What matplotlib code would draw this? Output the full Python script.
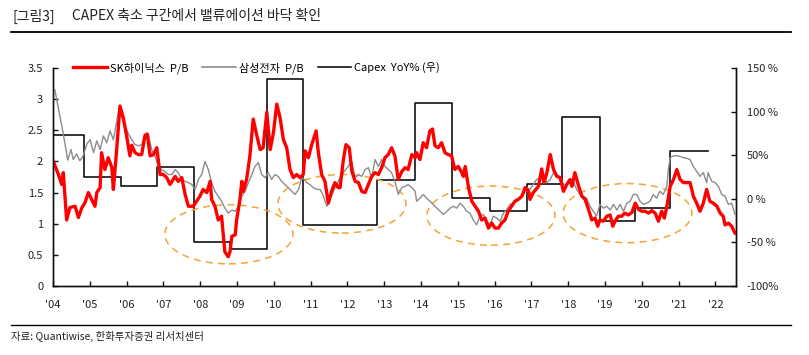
import matplotlib
matplotlib.use("Agg")
import matplotlib.pyplot as plt
from matplotlib.patches import Ellipse
from matplotlib.lines import Line2D

plt.rcParams['font.family'] = ['Noto Sans CJK KR', 'DejaVu Sans']

# SK hynix P/B
sk_year = [2004.01, 2004.14, 2004.24, 2004.28, 2004.37, 2004.46, 2004.60, 2004.69, 2004.78, 2004.87,
           2004.96, 2005.05, 2005.14, 2005.19, 2005.28, 2005.32, 2005.41, 2005.50, 2005.60, 2005.64,
           2005.73, 2005.82, 2005.91, 2006.00, 2006.09, 2006.14, 2006.23, 2006.32, 2006.41, 2006.50,
           2006.56, 2006.64, 2006.73, 2006.82, 2006.91, 2007.00, 2007.09, 2007.18, 2007.32, 2007.40,
           2007.50, 2007.59, 2007.68, 2007.81, 2007.90, 2007.99, 2008.08, 2008.18, 2008.27, 2008.31,
           2008.40, 2008.49, 2008.58, 2008.67, 2008.76, 2008.81, 2008.86, 2008.95, 2008.99, 2009.08,
           2009.13, 2009.17, 2009.26, 2009.35, 2009.44, 2009.54, 2009.63, 2009.71, 2009.81, 2009.90,
           2009.99, 2010.08, 2010.17, 2010.26, 2010.35, 2010.44, 2010.53, 2010.62, 2010.71, 2010.80,
           2010.85, 2010.94, 2011.03, 2011.15, 2011.21, 2011.30, 2011.39, 2011.48, 2011.57, 2011.66,
           2011.75, 2011.80, 2011.89, 2011.96, 2012.05, 2012.12, 2012.21, 2012.30, 2012.39, 2012.48,
           2012.57, 2012.66, 2012.75, 2012.84, 2012.93, 2013.02, 2013.11, 2013.20, 2013.29, 2013.38,
           2013.48, 2013.57, 2013.65, 2013.75, 2013.84, 2013.88, 2013.97, 2014.06, 2014.15, 2014.24,
           2014.31, 2014.38, 2014.47, 2014.56, 2014.65, 2014.74, 2014.83, 2014.92, 2015.01, 2015.11,
           2015.15, 2015.20, 2015.29, 2015.38, 2015.47, 2015.56, 2015.65, 2015.74, 2015.83, 2015.92,
           2016.01, 2016.10, 2016.19, 2016.28, 2016.37, 2016.46, 2016.55, 2016.64, 2016.74, 2016.83,
           2016.92, 2016.96, 2017.05, 2017.19, 2017.28, 2017.34, 2017.42, 2017.51, 2017.60, 2017.69,
           2017.78, 2017.87, 2017.96, 2018.05, 2018.10, 2018.18, 2018.27, 2018.37, 2018.46, 2018.55,
           2018.64, 2018.73, 2018.80, 2018.86, 2018.95, 2019.05, 2019.14, 2019.21, 2019.27, 2019.36,
           2019.45, 2019.54, 2019.63, 2019.73, 2019.82, 2019.91, 2020.00, 2020.09, 2020.18, 2020.27,
           2020.36, 2020.45, 2020.54, 2020.61, 2020.68, 2020.77, 2020.86, 2020.95, 2021.04, 2021.13,
           2021.22, 2021.31, 2021.40, 2021.49, 2021.58, 2021.67, 2021.76, 2021.85, 2021.94, 2022.04,
           2022.13, 2022.21, 2022.26, 2022.35, 2022.44, 2022.53]
sk_pb = [2.00, 1.80, 1.63, 1.82, 1.06, 1.26, 1.28, 1.10, 1.25, 1.34,
         1.50, 1.39, 1.28, 1.50, 1.58, 2.14, 1.87, 2.06, 1.90, 1.55,
         2.19, 2.89, 2.70, 2.41, 2.09, 2.26, 2.14, 2.11, 2.11, 2.42,
         2.44, 2.09, 2.11, 2.22, 1.79, 1.79, 1.74, 1.63, 1.76, 1.68,
         1.74, 1.47, 1.28, 1.28, 1.36, 1.44, 1.55, 1.50, 1.68, 1.39,
         1.28, 1.06, 1.12, 0.55, 0.47, 0.55, 0.80, 0.82, 1.06, 1.39,
         1.68, 1.52, 1.71, 2.09, 2.68, 2.41, 2.19, 2.22, 2.79, 2.19,
         2.46, 2.92, 2.70, 2.35, 2.22, 1.87, 1.74, 1.79, 1.74, 1.79,
         2.17, 2.06, 2.27, 2.49, 2.14, 1.79, 1.68, 1.33, 1.52, 1.66,
         1.58, 1.58, 2.03, 2.27, 2.22, 1.84, 1.68, 1.66, 1.52, 1.50,
         1.63, 1.76, 1.82, 1.79, 1.90, 2.06, 2.11, 2.22, 2.09, 1.71,
         1.84, 1.90, 1.87, 2.11, 2.06, 2.14, 2.03, 2.30, 2.22, 2.49,
         2.52, 2.25, 2.22, 2.30, 2.14, 2.11, 2.09, 1.87, 1.92, 1.82,
         1.76, 1.92, 1.58, 1.36, 1.28, 1.20, 1.06, 1.09, 0.93, 1.01,
         0.93, 0.93, 1.01, 1.06, 1.20, 1.28, 1.36, 1.39, 1.44, 1.58,
         1.52, 1.39, 1.50, 1.60, 1.88, 1.66, 1.82, 2.11, 1.87, 1.76,
         1.74, 1.52, 1.63, 1.71, 1.60, 1.82, 1.63, 1.44, 1.39, 1.23,
         1.06, 1.09, 0.96, 1.06, 1.04, 1.12, 1.14, 0.96, 1.04, 1.12,
         1.12, 1.17, 1.14, 1.18, 1.33, 1.23, 1.20, 1.20, 1.17, 1.21,
         1.17, 1.04, 1.20, 1.09, 1.28, 1.60, 1.71, 1.87, 1.71, 1.66,
         1.66, 1.66, 1.44, 1.33, 1.20, 1.33, 1.55, 1.36, 1.33, 1.28,
         1.17, 1.12, 0.98, 1.01, 0.96, 0.85]

# Samsung Electronics P/B
ss_year = [2004.05, 2004.14, 2004.24, 2004.33, 2004.40, 2004.49, 2004.55, 2004.64, 2004.73, 2004.82,
           2004.92, 2005.01, 2005.10, 2005.19, 2005.28, 2005.37, 2005.46, 2005.55, 2005.64, 2005.71,
           2005.80, 2005.87, 2005.96, 2006.05, 2006.14, 2006.23, 2006.32, 2006.41, 2006.50, 2006.59,
           2006.68, 2006.77, 2006.86, 2006.95, 2007.04, 2007.13, 2007.23, 2007.32, 2007.40, 2007.50,
           2007.59, 2007.68, 2007.77, 2007.86, 2007.95, 2008.04, 2008.13, 2008.22, 2008.31, 2008.40,
           2008.49, 2008.58, 2008.67, 2008.76, 2008.86, 2008.95, 2009.04, 2009.13, 2009.22, 2009.31,
           2009.40, 2009.49, 2009.58, 2009.67, 2009.76, 2009.85, 2009.94, 2010.03, 2010.12, 2010.21,
           2010.30, 2010.39, 2010.49, 2010.58, 2010.67, 2010.76, 2010.85, 2010.89, 2010.98, 2011.07,
           2011.17, 2011.26, 2011.35, 2011.44, 2011.53, 2011.62, 2011.71, 2011.80, 2011.89, 2012.02,
           2012.12, 2012.21, 2012.30, 2012.39, 2012.48, 2012.57, 2012.66, 2012.75, 2012.84, 2012.93,
           2013.02, 2013.11, 2013.20, 2013.29, 2013.38, 2013.48, 2013.57, 2013.65, 2013.75, 2013.84,
           2013.88, 2013.97, 2014.06, 2014.15, 2014.24, 2014.33, 2014.43, 2014.52, 2014.61, 2014.70,
           2014.79, 2014.88, 2014.97, 2015.06, 2015.15, 2015.24, 2015.33, 2015.42, 2015.51, 2015.60,
           2015.69, 2015.79, 2015.88, 2015.96, 2016.06, 2016.15, 2016.24, 2016.33, 2016.42, 2016.51,
           2016.60, 2016.69, 2016.78, 2016.87, 2016.96, 2017.05, 2017.14, 2017.23, 2017.32, 2017.42,
           2017.51, 2017.60, 2017.69, 2017.78, 2017.87, 2017.96, 2018.05, 2018.14, 2018.23, 2018.32,
           2018.41, 2018.50, 2018.59, 2018.68, 2018.77, 2018.86, 2018.95, 2019.05, 2019.14, 2019.23,
           2019.32, 2019.41, 2019.50, 2019.59, 2019.68, 2019.77, 2019.86, 2019.95, 2020.04, 2020.13,
           2020.22, 2020.31, 2020.40, 2020.49, 2020.58, 2020.68, 2020.72, 2020.77, 2020.86, 2020.95,
           2021.04, 2021.13, 2021.22, 2021.31, 2021.40, 2021.49, 2021.58, 2021.67, 2021.76, 2021.80,
           2021.90, 2021.99, 2022.08, 2022.17, 2022.26, 2022.35, 2022.44, 2022.53]
ss_pb = [3.15, 2.87, 2.57, 2.27, 2.02, 2.19, 2.03, 2.12, 2.01, 2.09,
         2.28, 2.35, 2.14, 2.33, 2.19, 2.41, 2.30, 2.49, 2.35, 2.57,
         2.87, 2.70, 2.57, 2.44, 2.35, 2.27, 2.25, 2.27, 2.41, 2.44,
         2.19, 2.09, 1.92, 1.87, 1.84, 1.79, 1.79, 1.87, 1.82, 1.71,
         1.68, 1.66, 1.63, 1.55, 1.71, 1.79, 2.00, 1.87, 1.66, 1.52,
         1.44, 1.36, 1.25, 1.17, 1.22, 1.20, 1.28, 1.44, 1.52, 1.66,
         1.79, 1.92, 1.98, 1.79, 1.74, 1.82, 1.71, 1.79, 1.76, 1.68,
         1.63, 1.58, 1.52, 1.47, 1.55, 1.74, 1.70, 1.66, 1.63, 1.58,
         1.55, 1.55, 1.44, 1.28, 1.39, 1.52, 1.63, 1.74, 1.82, 1.92,
         2.00, 1.74, 1.79, 1.76, 1.87, 1.90, 1.74, 2.03, 1.92, 2.03,
         1.92, 1.87, 1.82, 1.68, 1.47, 1.58, 1.60, 1.63, 1.58, 1.52,
         1.36, 1.41, 1.47, 1.41, 1.36, 1.31, 1.25, 1.20, 1.15, 1.20,
         1.25, 1.28, 1.25, 1.33, 1.28, 1.20, 1.17, 1.06, 0.98, 1.12,
         1.15, 1.04, 0.98, 1.12, 1.09, 1.04, 1.17, 1.23, 1.31, 1.33,
         1.36, 1.41, 1.47, 1.58, 1.55, 1.63, 1.71, 1.74, 1.79, 1.66,
         1.71, 1.82, 1.79, 1.74, 1.63, 1.63, 1.66, 1.68, 1.55, 1.47,
         1.44, 1.41, 1.28, 1.20, 1.12, 1.31, 1.25, 1.28, 1.22, 1.31,
         1.22, 1.31, 1.20, 1.33, 1.36, 1.47, 1.47, 1.36, 1.31, 1.33,
         1.36, 1.47, 1.41, 1.52, 1.47, 1.60, 1.87, 2.06, 2.09, 2.09,
         2.08, 2.06, 2.05, 2.03, 1.92, 1.84, 1.76, 1.82, 1.66, 1.82,
         1.68, 1.66, 1.60, 1.47, 1.44, 1.31, 1.33, 1.15]

# Capex YoY % (right axis), value holds from each date to the next
capex_year = [2004.00, 2004.84, 2005.85, 2006.83, 2007.83, 2008.81, 2009.82, 2010.80, 2012.81,
              2013.84, 2014.83, 2015.87, 2016.87, 2017.82, 2018.85, 2019.82, 2020.77, 2021.79]
capex_yoy = [73, 25, 15, 36, -49, -58, 137, -30, 21,
             110, 1, -14, 17, 94, -25, -11, 55, 55]

year_ticks = list(range(2004, 2023))
year_labels = ["'%02d" % (y % 100) for y in year_ticks]
left_ticks = [0, 0.5, 1, 1.5, 2, 2.5, 3, 3.5]
left_labels = ['0', '0.5', '1', '1.5', '2', '2.5', '3', '3.5']
right_ticks = [-100, -50, 0, 50, 100, 150]
right_labels = ['-100%', '-50 %', '0 %', '50%', '100 %', '150 %']

# trough zones (centre year, centre P/B, width yrs, height P/B)
zones = [(2008.78, 0.83, 3.48, 0.95),
         (2011.85, 1.32, 3.48, 0.94),
         (2015.90, 1.13, 3.48, 0.95),
         (2019.61, 1.17, 3.50, 0.95)]

fig = plt.figure(figsize=(8.09, 3.55), dpi=100)
ax = fig.add_axes([53 / 809, 1 - 286 / 355, (735.7 - 53) / 809, 218 / 355])
ax2 = ax.twinx()
ax.set_zorder(ax2.get_zorder() + 1)
ax.patch.set_visible(False)

ax2.plot(capex_year, capex_yoy, drawstyle='steps-post', color='#111111', lw=1.2)
ax.plot(ss_year, ss_pb, color='#8c8c8c', lw=1.0)
ax.plot(sk_year, sk_pb, color='#ff0000', lw=2.4)

for cx, cy, w, h in zones:
    ax.add_patch(Ellipse((cx, cy), w, h, fill=False, edgecolor='#f5a333',
                         lw=1.1, linestyle=(0, (4.5, 3.5))))

ax.set_xlim(2004.0, 2022.55)
ax.set_ylim(0, 3.5)
ax2.set_ylim(-100, 150)
ax.set_xticks(year_ticks)
ax.set_xticklabels(year_labels)
ax.set_yticks(left_ticks)
ax.set_yticklabels(left_labels)
ax2.set_yticks(right_ticks)
ax2.set_yticklabels(right_labels)

for a in (ax, ax2):
    a.spines['top'].set_visible(False)
    for s in ('left', 'right', 'bottom'):
        a.spines[s].set_linewidth(1.0)
        a.spines[s].set_color('#111111')
    a.tick_params(direction='in', length=3.5, width=1.0, labelsize=8, colors='#111111',
                  labelcolor='#222222')
ax.tick_params(axis='x', pad=10)
ax.tick_params(axis='y', pad=7)
ax2.tick_params(axis='y', pad=8)

handles = [Line2D([], [], color='#ff0000', lw=2.4),
           Line2D([], [], color='#8c8c8c', lw=1.2),
           Line2D([], [], color='#111111', lw=1.2)]
labels = ['SK하이닉스  P/B', '삼성전자  P/B', 'Capex  YoY% (우)']
ax.legend(handles, labels, loc='center', bbox_to_anchor=(0.298, 1.0), ncol=3,
          frameon=False, fontsize=8, handlelength=3.0, handletextpad=0.25,
          columnspacing=1.3)

fig.text(12 / 809, 1 - 16 / 355, '[그림3]', fontsize=10, va='center', color='#222222')
fig.text(72 / 809, 1 - 16 / 355, 'CAPEX 축소 구간에서 밸류에이션 바닥 확인', fontsize=10,
         va='center', color='#222222')
fig.add_artist(Line2D([11 / 809, 791 / 809], [1 - 32 / 355, 1 - 32 / 355], color='black', lw=1.3))
fig.add_artist(Line2D([11 / 809, 791 / 809], [1 - 325 / 355, 1 - 325 / 355], color='black', lw=1.0))
fig.text(11 / 809, 1 - 336 / 355, '자료: Quantiwise, 한화투자증권 리서치센터', fontsize=7.5,
         va='center', color='#222222')

fig.savefig('out.png', dpi=100)
